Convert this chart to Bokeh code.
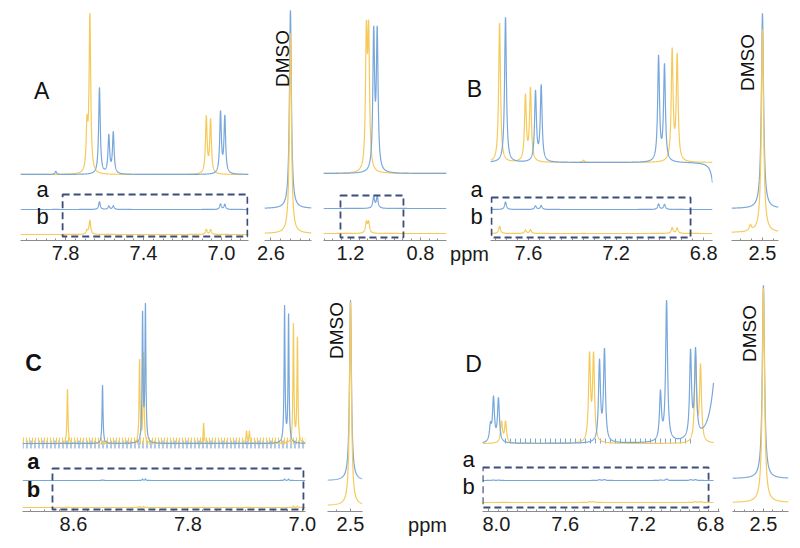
import numpy as np
from bokeh.plotting import figure
from bokeh.models import Range1d, FixedTicker, Label, BoxAnnotation, PrintfTickFormatter
from bokeh.layouts import row, column
from bokeh.embed import file_html
from bokeh.resources import INLINE

# ---------------- data (ppm, relative intensity) ----------------
# sample a = blue trace, sample b = yellow trace
A_ARO_PPM_a = [7.850, 7.626, 7.578, 7.555, 7.005, 6.983]
A_ARO_INT_a = [2, 55, 24, 26, 39, 36]
A_ARO_PPM_b = [7.690, 7.675, 7.078, 7.056]
A_ARO_INT_b = [28, 100, 36, 34]

A_ALI_PPM_a = [1.067, 1.047]
A_ALI_INT_a = [88, 88]
A_ALI_PPM_b = [1.109, 1.096]
A_ALI_INT_b = [84, 84]

B_ARO_PPM_a = [7.705, 7.568, 7.542, 7.006, 6.979]
B_ARO_INT_a = [100, 48, 52, 72, 66]
B_ARO_PPM_b = [7.732, 7.614, 7.591, 7.349, 6.944, 6.921]
B_ARO_INT_b = [96, 45, 50, 1.5, 76, 72]
B_DRIFT_PPM_a = [6.745]
B_DRIFT_INT_a = [-45]

C_ARO_PPM_a = [8.397, 8.117, 8.097, 7.124, 7.096]
C_ARO_INT_a = [43, 94, 100, 100, 94]
C_ARO_PPM_b = [8.642, 8.138, 8.110, 7.690, 7.390, 7.370, 7.062, 7.034]
C_ARO_INT_b = [40, 61, 66, 15, 9, 9, 87, 77]

D_ARO_PPM_a = [7.990, 7.974, 7.948, 7.421, 7.395, 7.103, 7.071, 6.946, 6.920]
D_ARO_INT_a = [11, 31, 31, 57, 65, 34, 100, 61, 61]
D_ARO_PPM_b = [7.932, 7.911, 7.473, 7.452, 6.920, 6.894]
D_ARO_INT_b = [15, 15, 61, 61, 61, 54]
D_TAIL_PPM_a = [6.80]
D_TAIL_INT_a = [73]

DMSO_PPM = [2.50]
DMSO_A_INT_a = [100]
DMSO_A_INT_b = [101]
DMSO_B_PPM_b = [2.50, 2.555]
DMSO_B_INT_a = [100]
DMSO_B_INT_b = [104, 3]
DMSO_C_INT_a = [100]
DMSO_C_INT_b = [113]
DMSO_D_INT_a = [100]
DMSO_D_INT_b = [111]

TICKS_A_ARO = [7.8, 7.4, 7.0]
TICKS_A_ALI = [1.2, 0.8]
TICKS_A_DMSO = [2.6]
TICKS_B_ARO = [7.6, 7.2, 6.8]
TICKS_C_ARO = [8.6, 7.8, 7.0]
TICKS_D_ARO = [8.0, 7.6, 7.2, 6.8]
TICKS_DMSO = [2.5]

# ---------------- style ----------------
BLUE = "#78a7db"
YELLOW = "#f6ca5a"
BOXC = "#3b4d78"
FONT = "Liberation Sans"
AXC = "#8c8c8c"
LW = 1.2

TOP = dict(H=272, ytop=8, ybot=240, btop=8, bbot=32)
BOT = dict(H=268, ytop=272, ybot=511, btop=0, bbot=29)


def spectrum(x, ppm, inten, gam):
    y = np.zeros_like(x)
    for c, h in zip(ppm, inten):
        y = y + h * gam ** 2 / ((x - c) ** 2 + gam ** 2)
    return y


def base_fig(xr, width, left, right, rw):
    p = figure(width=width, height=rw["H"],
               x_range=Range1d(xr[0], xr[1]), y_range=Range1d(rw["ybot"], rw["ytop"]),
               output_backend="svg", toolbar_location=None, y_axis_location=None,
               min_border_left=left, min_border_right=right,
               min_border_top=rw["btop"], min_border_bottom=rw["bbot"])
    p.grid.visible = False
    p.outline_line_color = None
    p.background_fill_color = None
    p.border_fill_color = None
    return p


def make_fig(xr, frame_w, left, right, rw, major, minor_step):
    p = base_fig(xr, left + frame_w + right, left, right, rw)
    ax = p.xaxis[0]
    lo, hi = min(xr), max(xr)
    minor = list(np.round(np.arange(np.ceil(lo / minor_step) * minor_step, hi, minor_step), 3))
    ax.ticker = FixedTicker(ticks=major, minor_ticks=minor)
    ax.formatter = PrintfTickFormatter(format="%.1f")
    ax.axis_line_color = AXC
    ax.axis_line_width = 1
    ax.major_tick_line_color = AXC
    ax.minor_tick_line_color = AXC
    ax.major_tick_in = 3
    ax.major_tick_out = 0
    ax.minor_tick_in = 2
    ax.minor_tick_out = 0
    ax.major_label_standoff = 5
    ax.major_label_text_font = FONT
    ax.major_label_text_font_size = "20px"
    ax.major_label_text_color = "#1a1a1a"
    return p


def make_holder(x0, x1, rw, unit_label):
    p = base_fig((x0, x1), x1 - x0, 0, 0, rw)
    ax = p.xaxis[0]
    ax.ticker = FixedTicker(ticks=[], minor_ticks=[])
    ax.axis_line_color = None
    ax.major_tick_line_color = None
    ax.minor_tick_line_color = None
    ax.major_label_standoff = 0
    ax.axis_label = unit_label
    ax.axis_label_standoff = 2
    ax.axis_label_text_font = FONT
    ax.axis_label_text_font_size = "20px"
    ax.axis_label_text_font_style = "normal"
    ax.axis_label_text_color = "#1a1a1a"
    return p


def grid(p, end=None):
    s, e = p.x_range.start, p.x_range.end
    if end is not None:
        e = end
    return np.linspace(s, e, 3000)


def add_zoom(p, x, ya, yb, base, scale):
    p.line(x, base - scale * yb, color=YELLOW, line_width=LW)
    p.line(x, base - scale * ya, color=BLUE, line_width=LW)


def add_traces(p, x, ya, yb, off_a, off_b, scale):
    p.line(x, off_a - scale * ya, color=BLUE, line_width=LW)
    p.line(x, off_b - scale * yb, color=YELLOW, line_width=LW)


def add_box(p, l, r, t, b):
    p.add_layout(BoxAnnotation(left=l, right=r, top=t, bottom=b, fill_color=None,
                               fill_alpha=0, line_color=BOXC, line_alpha=1.0, line_width=1.8,
                               line_dash="7 4"))


def txt(p, x, y, s, size="22px", bold=False, angle=0.0):
    p.add_layout(Label(x=x, y=y, text=s, text_font=FONT, text_font_size=size,
                       text_font_style="bold" if bold else "normal",
                       text_align="center", text_baseline="middle",
                       text_color="#111111", angle=angle))


DM = "19px"

# ---------------- top row ----------------
pA1 = make_fig((8.031, 6.8615), 228, 20, 8, TOP, TICKS_A_ARO, 0.05)
x = grid(pA1)
g = 0.005
add_zoom(pA1, x, spectrum(x, A_ARO_PPM_a, A_ARO_INT_a, g), spectrum(x, A_ARO_PPM_b, A_ARO_INT_b, g), 174, 1.57)
add_traces(pA1, x, spectrum(x, A_ARO_PPM_a, A_ARO_INT_a, g), spectrum(x, A_ARO_PPM_b, A_ARO_INT_b, g), 209, 234, 0.14)
add_box(pA1, 7.815, 6.867, 194, 236)
txt(pA1, 7.923, 90, "A", "23px")
txt(pA1, 7.918, 189, "a")
txt(pA1, 7.918, 216, "b")

pA2 = make_fig((2.633, 2.392), 47, 8, 6, TOP, TICKS_A_DMSO, 0.05)
x = grid(pA2)
add_traces(pA2, x, spectrum(x, DMSO_PPM, DMSO_A_INT_a, 0.006), spectrum(x, DMSO_PPM, DMSO_A_INT_b, 0.006), 208, 233, 1.98)
txt(pA2, 2.541, 58, "DMSO", DM, angle=np.pi / 2)

pA3 = make_fig((1.354, 0.651), 123, 6, 2, TOP, TICKS_A_ALI, 0.05)
x = grid(pA3)
g = 0.006
add_zoom(pA3, x, spectrum(x, A_ALI_PPM_a, A_ALI_INT_a, g), spectrum(x, A_ALI_PPM_b, A_ALI_INT_b, g), 173, 1.55)
add_traces(pA3, x, spectrum(x, A_ALI_PPM_a, A_ALI_INT_a, g), spectrum(x, A_ALI_PPM_b, A_ALI_INT_b, g), 208, 233, 0.13)
add_box(pA3, 1.257, 0.897, 195, 237)

hTop = make_holder(448, 490, TOP, "ppm")
txt(hTop, 474, 88, "B", "23px")
txt(hTop, 476, 189, "a")
txt(hTop, 476, 216, "b")

pB1 = make_fig((7.7735, 6.7598), 222, 0, 9, TOP, TICKS_B_ARO, 0.05)
x = grid(pB1)
g = 0.005
ya = spectrum(x, B_ARO_PPM_a, B_ARO_INT_a, g)
yb = spectrum(x, B_ARO_PPM_b, B_ARO_INT_b, g)
add_zoom(pB1, x, ya + spectrum(x, B_DRIFT_PPM_a, B_DRIFT_INT_a, 0.01), yb, 162, 1.45)
add_traces(pB1, x, ya, yb, 209, 233, 0.075)
add_box(pB1, 7.769, 6.86, 197, 237)

pB2 = make_fig((2.641, 2.427), 47, 10, 12, TOP, TICKS_DMSO, 0.05)
x = grid(pB2)
add_traces(pB2, x, spectrum(x, DMSO_PPM, DMSO_B_INT_a, 0.006), spectrum(x, DMSO_B_PPM_b, DMSO_B_INT_b, 0.006), 208, 232, 1.95)
txt(pB2, 2.568, 62, "DMSO", DM, angle=np.pi / 2)

# ---------------- bottom row ----------------
pC1 = make_fig((8.9566, 6.9776), 283, 22, 11, BOT, TICKS_C_ARO, 0.1)
x = grid(pC1)
g = 0.004
ya = spectrum(x, C_ARO_PPM_a, C_ARO_INT_a, g)
yb = spectrum(x, C_ARO_PPM_b, C_ARO_INT_b, g)
xs, xe = pC1.x_range.start, pC1.x_range.end
pC1.quad(left=xs, right=xe, top=440, bottom=448, fill_color=None, line_color=None,
         hatch_pattern="|", hatch_color=BLUE, hatch_scale=4, hatch_weight=1.2)
pC1.quad(left=xs, right=xe, top=437, bottom=444, fill_color=None, line_color=None,
         hatch_pattern="|", hatch_color=YELLOW, hatch_scale=3, hatch_weight=1.2)
add_zoom(pC1, x, ya, yb, 443, 1.36)
add_traces(pC1, x, ya, yb, 480, 507, 0.015)
add_box(pC1, 8.747, 6.992, 468, 509)
txt(pC1, 8.88, 362, "C", "23px", bold=True)
txt(pC1, 8.88, 461, "a", "22px", bold=True)
txt(pC1, 8.88, 489, "b", "22px", bold=True)

pC2 = make_fig((2.661, 2.416), 35, 11, 10, BOT, TICKS_DMSO, 0.1)
x = grid(pC2)
add_traces(pC2, x, spectrum(x, DMSO_PPM, DMSO_C_INT_a, 0.008), spectrum(x, DMSO_PPM, DMSO_C_INT_b, 0.008), 480, 505, 1.8)
txt(pC2, 2.598, 330, "DMSO", DM, angle=np.pi / 2)

hBot = make_holder(372, 482, BOT, "ppm")
txt(hBot, 473, 363, "D", "23px")
txt(hBot, 468, 459, "a")
txt(hBot, 468, 486, "b")

pD1 = make_fig((8.0313, 6.795), 237, 0, 5, BOT, TICKS_D_ARO, 0.05)
x = grid(pD1, end=6.826)
g = 0.006
ya = spectrum(x, D_ARO_PPM_a, D_ARO_INT_a, g)
yb = spectrum(x, D_ARO_PPM_b, D_ARO_INT_b, g)
pD1.quad(left=7.93, right=6.94, top=438, bottom=443, fill_color=None, line_color=None,
         hatch_pattern="|", hatch_color=BLUE, hatch_scale=5, hatch_weight=1.0)
add_zoom(pD1, x, ya + spectrum(x, D_TAIL_PPM_a, D_TAIL_INT_a, 0.031), yb, 443, 1.40)
add_traces(pD1, x, ya, yb, 480, 502, 0.015)
add_box(pD1, 8.03, 6.852, 467, 507)

pD2 = make_fig((2.663, 2.368), 56, 8, 4, BOT, TICKS_DMSO, 0.05)
x = grid(pD2)
add_traces(pD2, x, spectrum(x, DMSO_PPM, DMSO_D_INT_a, 0.007), spectrum(x, DMSO_PPM, DMSO_D_INT_b, 0.007), 478, 502, 1.93)
txt(pD2, 2.574, 333, "DMSO", DM, angle=np.pi / 2)

layout = column(row(pA1, pA2, pA3, hTop, pB1, pB2), row(pC1, pC2, hBot, pD1, pD2))

open("out.html", "w").write(file_html(layout, INLINE))
